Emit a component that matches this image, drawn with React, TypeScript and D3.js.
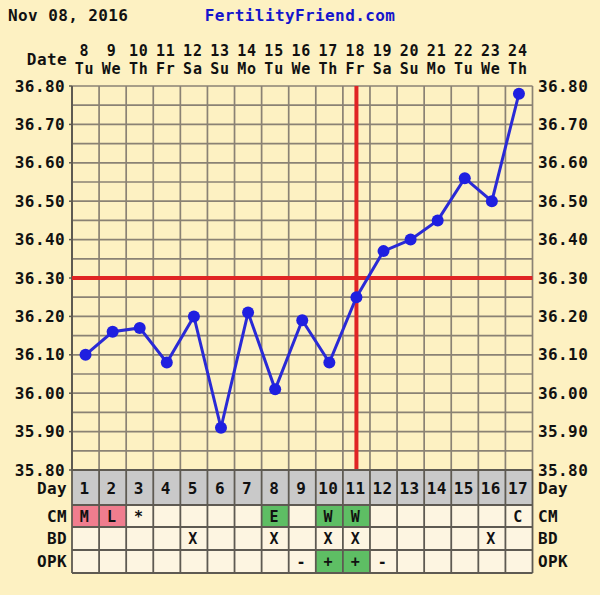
import React from "react";
import * as d3 from "d3";

const dates = [8, 9, 10, 11, 12, 13, 14, 15, 16, 17, 18, 19, 20, 21, 22, 23, 24];
const weekdays = ["Tu", "We", "Th", "Fr", "Sa", "Su", "Mo", "Tu", "We", "Th", "Fr", "Sa", "Su", "Mo", "Tu", "We", "Th"];
const cycleDays = [1, 2, 3, 4, 5, 6, 7, 8, 9, 10, 11, 12, 13, 14, 15, 16, 17];
const temps = [36.10, 36.16, 36.17, 36.08, 36.20, 35.91, 36.21, 36.01, 36.19, 36.08, 36.25, 36.37, 36.40, 36.45, 36.56, 36.50, 36.78];
const cmValues = ["M", "L", "*", "", "", "", "", "E", "", "W", "W", "", "", "", "", "", "C"];
const cmKinds = ["pink", "pink", "", "", "", "", "", "green", "", "green", "green", "", "", "", "", "", ""];
const bdValues = ["", "", "", "", "X", "", "", "X", "", "X", "X", "", "", "", "", "X", ""];
const opkValues = ["", "", "", "", "", "", "", "", "-", "+", "+", "-", "", "", "", "", ""];
const opkKinds = ["", "", "", "", "", "", "", "", "", "green", "green", "", "", "", "", "", ""];
const yTicks = [35.8, 35.9, 36.0, 36.1, 36.2, 36.3, 36.4, 36.5, 36.6, 36.7, 36.8];
const coverline = 36.3;
const ovulationDate = 18;
const titleDate = "Nov 08, 2016";
const siteName = "FertilityFriend.com";

const W = 600;
const H = 595;
const left = 72;
const right = 532.5;
const top = 86;
const bottom = 470;

const BG = "#FDF1C2";
const CELL = "#FDF5E1";
const GRID = "#8A8274";
const DARK = "#5E5A52";
const FONT = "'DejaVu Sans Mono', 'Liberation Mono', monospace";

export default function App() {
  const x = d3.scaleBand<number>().domain(dates).range([left, right]).padding(0);
  const y = d3.scaleLinear().domain([35.8, 36.8]).range([bottom, top]);
  const bw = x.bandwidth();
  const cx = (d: number) => (x(d) as number) + bw / 2;

  const minor = d3.range(0, 21).map((i) => 35.8 + i * 0.05);
  const line = d3
    .line<number>()
    .x((_, i) => cx(dates[i]))
    .y((t) => y(t));

  const rows = [
    { label: "CM", y0: 505, y1: 527, values: cmValues, kinds: cmKinds },
    { label: "BD", y0: 527, y1: 550, values: bdValues, kinds: bdValues.map(() => "") },
    { label: "OPK", y0: 550, y1: 573, values: opkValues, kinds: opkKinds },
  ];
  const kindColor = (k: string) => (k === "pink" ? "#F07D8E" : k === "green" ? "#5EBE64" : CELL);

  const txt = { fontFamily: FONT, fontWeight: 700, fontSize: 16, letterSpacing: 0.4 } as const;
  const htxt = { ...txt, fontSize: 15, letterSpacing: 0.8 } as const;

  return (
    <>
      <style>{`body{margin:0}`}</style>
      <svg width={W} height={H} style={{ display: "block" }}>
        <rect x={0} y={0} width={W} height={H} fill={BG} />
        <text x={8} y={16} dominantBaseline="middle" {...txt} fill="#111">{titleDate}</text>
        <text x={300} y={16} textAnchor="middle" dominantBaseline="middle" {...txt} fill="#1515CC">{siteName}</text>

        {/* header */}
        <text x={67} y={60} textAnchor="end" dominantBaseline="middle" {...txt} fill="#111">Date</text>
        {dates.map((d, i) => (
          <g key={"h" + d}>
            <text x={cx(d) - 1} y={51} textAnchor="middle" dominantBaseline="middle" {...htxt} fill="#111">{d}</text>
            <text x={cx(d) - 1} y={69} textAnchor="middle" dominantBaseline="middle" {...htxt} fill="#111">{weekdays[i]}</text>
          </g>
        ))}

        {/* grid */}
        {minor.map((v, i) => (
          <line key={"hg" + i} x1={left} x2={right} y1={y(v)} y2={y(v)} stroke={GRID} strokeWidth={1.7} />
        ))}
        {dates.map((d) => (
          <line key={"vg" + d} x1={x(d) as number} x2={x(d) as number} y1={top} y2={bottom} stroke={GRID} strokeWidth={1.7} />
        ))}
        <line x1={right} x2={right} y1={top} y2={bottom} stroke={GRID} strokeWidth={1.7} />
        <line x1={left} x2={left} y1={top} y2={bottom} stroke={DARK} strokeWidth={2} />

        {/* y labels */}
        {yTicks.map((t) => (
          <g key={"yt" + t}>
            <line x1={left - 3} x2={left} y1={y(t)} y2={y(t)} stroke={DARK} strokeWidth={1.5} />
            <text x={65} y={y(t) + 1} textAnchor="end" dominantBaseline="middle" {...txt} fill="#111">{t.toFixed(2)}</text>
            <text x={538} y={y(t) + 1} dominantBaseline="middle" {...txt} fill="#111">{t.toFixed(2)}</text>
          </g>
        ))}

        {/* coverline & ovulation */}
        <line x1={left} x2={right} y1={y(coverline)} y2={y(coverline)} stroke="#E02424" strokeWidth={4} />
        <line x1={cx(ovulationDate)} x2={cx(ovulationDate)} y1={top} y2={bottom} stroke="#E02424" strokeWidth={4} />

        {/* temps */}
        <path d={line(temps) || ""} fill="none" stroke="#2A2AD6" strokeWidth={3} />
        {temps.map((t, i) => (
          <circle key={"p" + i} cx={cx(dates[i])} cy={y(t)} r={6} fill="#1F1FE0" />
        ))}

        {/* Day row */}
        <rect x={left} y={470} width={right - left} height={35} fill="#C9C9C9" />
        {cycleDays.map((c, i) => (
          <text key={"cd" + c} x={cx(dates[i]) - 1} y={489} textAnchor="middle" dominantBaseline="middle" {...txt} fill="#111">{c}</text>
        ))}
        <text x={67} y={489} textAnchor="end" dominantBaseline="middle" {...txt} fill="#111">Day</text>
        <text x={538} y={489} dominantBaseline="middle" {...txt} fill="#111">Day</text>

        {/* table rows */}
        {rows.map((r) => (
          <g key={r.label}>
            {dates.map((d, i) => (
              <g key={r.label + d}>
                <rect x={x(d) as number} y={r.y0} width={bw} height={r.y1 - r.y0} fill={kindColor(r.kinds[i])} />
                {r.values[i] && (
                  <text x={cx(d) - 1} y={(r.y0 + r.y1) / 2 + 1} textAnchor="middle" dominantBaseline="middle" {...txt} fontSize={15} fill="#111">{r.values[i]}</text>
                )}
              </g>
            ))}
            <text x={67} y={(r.y0 + r.y1) / 2 + 1} textAnchor="end" dominantBaseline="middle" {...txt} fill="#111">{r.label}</text>
            <text x={538} y={(r.y0 + r.y1) / 2 + 1} dominantBaseline="middle" {...txt} fill="#111">{r.label}</text>
          </g>
        ))}

        {/* table grid */}
        {[470, 505, 527, 550, 573].map((yy) => (
          <line key={"tr" + yy} x1={left} x2={right} y1={yy} y2={yy} stroke={DARK} strokeWidth={1.8} />
        ))}
        {dates.map((d) => (
          <line key={"tc" + d} x1={x(d) as number} x2={x(d) as number} y1={470} y2={573} stroke={DARK} strokeWidth={1.8} />
        ))}
        <line x1={right} x2={right} y1={470} y2={573} stroke={DARK} strokeWidth={1.8} />
      </svg>
    </>
  );
}
